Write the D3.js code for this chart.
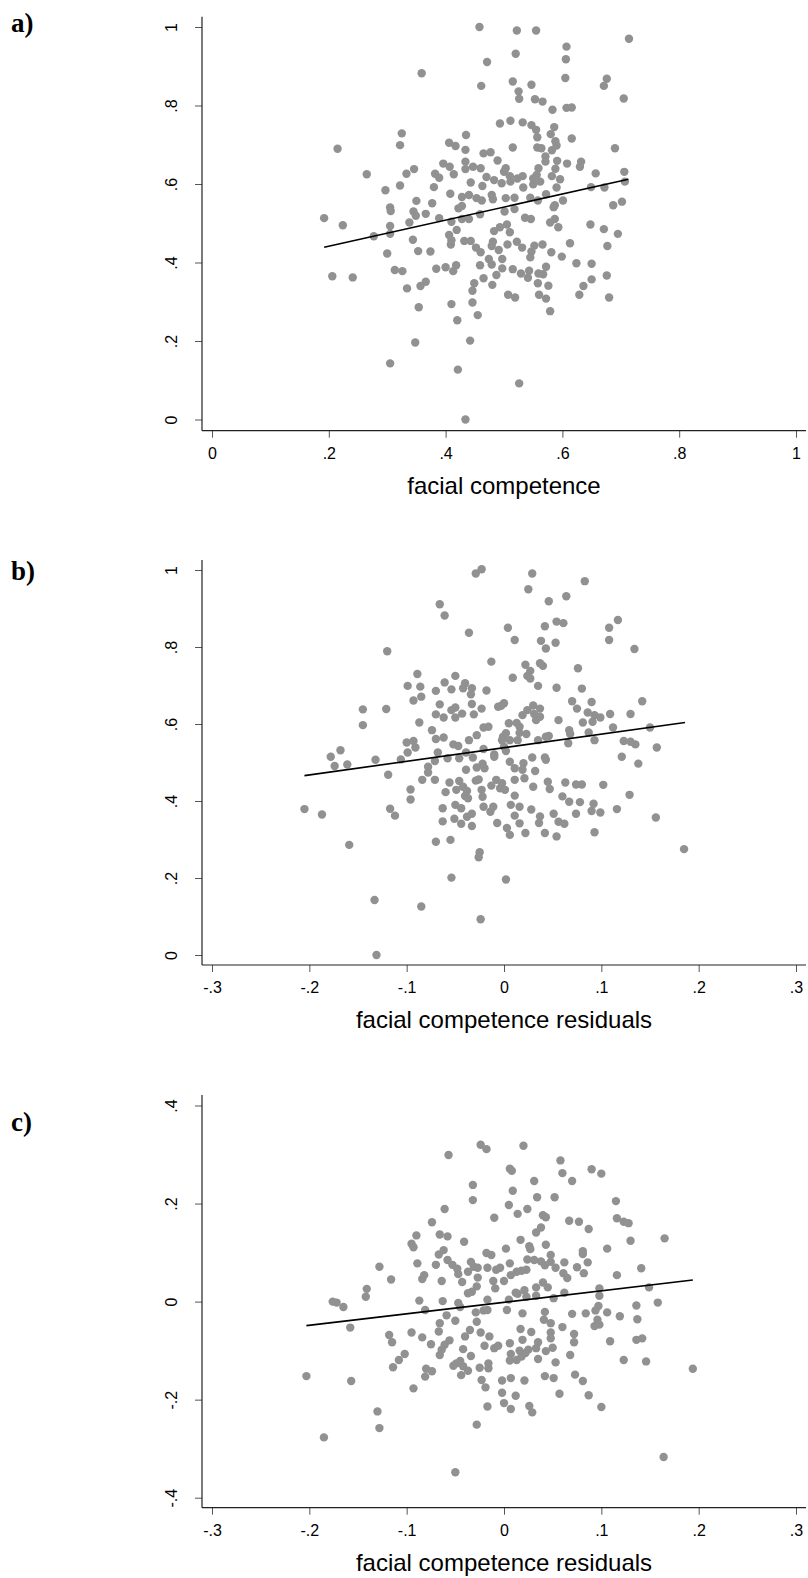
<!DOCTYPE html>
<html>
<head>
<meta charset="utf-8">
<script src="https://cdn.jsdelivr.net/npm/d3@7"></script>
<style>
body { margin: 0; background: #fff; }
</style>
</head>
<body>
<div id="chart"></div>
<script>
// panel a : vote share vs facial competence
var ptsA = [[0.458,1.0],[0.522,0.991],[0.555,0.991],[0.714,0.970],[0.607,0.950],[0.520,0.932],[0.606,0.918],[0.471,0.911],[0.359,0.882],[0.605,0.870],[0.676,0.868],[0.671,0.850],[0.461,0.850],[0.515,0.861],[0.547,0.853],[0.525,0.836],[0.526,0.817],[0.553,0.816],[0.566,0.810],[0.705,0.818],[0.583,0.789],[0.607,0.794],[0.616,0.795],[0.493,0.754],[0.511,0.761],[0.532,0.757],[0.547,0.750],[0.555,0.738],[0.586,0.745],[0.580,0.727],[0.557,0.719],[0.325,0.729],[0.322,0.699],[0.215,0.690],[0.435,0.725],[0.406,0.705],[0.417,0.697],[0.434,0.687],[0.515,0.693],[0.588,0.709],[0.590,0.698],[0.616,0.716],[0.557,0.693],[0.564,0.691],[0.690,0.691],[0.582,0.686],[0.571,0.670],[0.465,0.678],[0.477,0.681],[0.489,0.660],[0.571,0.657],[0.591,0.659],[0.608,0.652],[0.632,0.657],[0.630,0.644],[0.396,0.652],[0.407,0.644],[0.414,0.625],[0.434,0.657],[0.434,0.638],[0.447,0.644],[0.460,0.640],[0.503,0.640],[0.500,0.631],[0.559,0.640],[0.588,0.639],[0.556,0.623],[0.582,0.620],[0.346,0.638],[0.333,0.626],[0.265,0.625],[0.382,0.626],[0.389,0.616],[0.470,0.618],[0.483,0.610],[0.510,0.620],[0.523,0.614],[0.532,0.620],[0.550,0.614],[0.657,0.627],[0.706,0.631],[0.707,0.606],[0.596,0.612],[0.443,0.604],[0.463,0.595],[0.496,0.602],[0.511,0.606],[0.550,0.599],[0.533,0.591],[0.562,0.606],[0.590,0.591],[0.649,0.592],[0.672,0.591],[0.322,0.596],[0.297,0.584],[0.380,0.592],[0.408,0.575],[0.428,0.567],[0.440,0.572],[0.453,0.564],[0.462,0.558],[0.479,0.572],[0.481,0.561],[0.503,0.564],[0.518,0.565],[0.545,0.565],[0.558,0.558],[0.572,0.574],[0.350,0.557],[0.377,0.551],[0.428,0.544],[0.422,0.538],[0.459,0.523],[0.501,0.530],[0.518,0.536],[0.585,0.541],[0.601,0.558],[0.587,0.546],[0.687,0.546],[0.702,0.555],[0.305,0.540],[0.306,0.531],[0.345,0.530],[0.366,0.524],[0.349,0.519],[0.192,0.513],[0.224,0.495],[0.389,0.513],[0.410,0.504],[0.428,0.511],[0.440,0.511],[0.338,0.502],[0.305,0.493],[0.536,0.514],[0.546,0.511],[0.587,0.511],[0.579,0.502],[0.648,0.497],[0.593,0.490],[0.493,0.490],[0.505,0.497],[0.671,0.485],
  [0.305,0.473],[0.277,0.467],[0.344,0.458],[0.406,0.470],[0.419,0.483],[0.410,0.457],[0.409,0.446],[0.432,0.455],[0.443,0.455],[0.452,0.438],[0.460,0.426],[0.483,0.480],[0.510,0.477],[0.481,0.453],[0.479,0.442],[0.491,0.432],[0.506,0.446],[0.522,0.453],[0.531,0.438],[0.552,0.443],[0.566,0.446],[0.547,0.428],[0.545,0.413],[0.695,0.473],[0.677,0.442],[0.613,0.449],[0.581,0.426],[0.599,0.415],[0.300,0.423],[0.353,0.429],[0.374,0.428],[0.206,0.365],[0.241,0.362],[0.313,0.381],[0.326,0.378],[0.384,0.384],[0.400,0.388],[0.413,0.378],[0.418,0.393],[0.459,0.393],[0.474,0.409],[0.479,0.395],[0.497,0.409],[0.497,0.385],[0.487,0.368],[0.515,0.383],[0.529,0.372],[0.543,0.379],[0.541,0.361],[0.559,0.372],[0.572,0.389],[0.567,0.370],[0.558,0.347],[0.576,0.341],[0.624,0.398],[0.650,0.397],[0.650,0.357],[0.636,0.340],[0.676,0.367],[0.629,0.318],[0.680,0.311],[0.334,0.334],[0.357,0.340],[0.366,0.351],[0.465,0.360],[0.480,0.343],[0.449,0.347],[0.446,0.328],[0.507,0.318],[0.519,0.311],[0.560,0.318],[0.572,0.308],[0.579,0.276],[0.354,0.286],[0.410,0.294],[0.446,0.298],[0.455,0.266],[0.420,0.253],[0.442,0.201],[0.348,0.196],[0.305,0.143],[0.421,0.127],[0.526,0.092],[0.434,0.0]];
var fitA = [[0.192,0.439],[0.713,0.612]];

// panel b : vote share vs competence residuals
var ptsB = [[-0.023,1.002],[-0.029,0.991],[0.029,0.991],[0.083,0.971],[0.025,0.950],[0.064,0.932],[0.046,0.919],[-0.066,0.911],[-0.061,0.882],[0.054,0.866],[0.061,0.862],[0.117,0.870],[0.108,0.850],[0.004,0.850],[0.042,0.854],[-0.036,0.837],[0.011,0.818],[0.038,0.816],[0.053,0.811],[0.108,0.818],[0.043,0.796],[0.134,0.795],[-0.120,0.789],[-0.013,0.762],[0.022,0.754],[0.037,0.758],[0.040,0.751],[0.076,0.745],[0.027,0.738],[0.024,0.725],[0.027,0.718],[0.009,0.720],[-0.089,0.730],[-0.050,0.725],[-0.061,0.708],[-0.040,0.706],[-0.099,0.699],[-0.086,0.697],[-0.054,0.690],[-0.042,0.693],[-0.033,0.693],[-0.034,0.677],[-0.018,0.687],[-0.070,0.686],[0.035,0.699],[0.054,0.694],[0.080,0.692],[-0.085,0.671],[-0.093,0.661],[-0.066,0.651],[-0.033,0.652],[-0.023,0.640],[-0.003,0.647],[-0.006,0.645],[0.000,0.654],[-0.050,0.643],[-0.054,0.636],[-0.043,0.627],[-0.050,0.617],[-0.070,0.625],[-0.062,0.617],[-0.031,0.625],[-0.145,0.638],[-0.121,0.639],[0.070,0.659],[0.090,0.657],[0.142,0.659],[0.030,0.648],[0.037,0.640],[0.024,0.636],[0.019,0.623],[0.033,0.610],[0.031,0.626],[0.037,0.619],[0.075,0.640],[0.086,0.630],[0.093,0.623],[0.099,0.617],[0.109,0.626],[0.130,0.626],[0.056,0.610],[0.081,0.604],[0.091,0.606],[0.013,0.603],[0.005,0.602],[0.016,0.593],[-0.145,0.597],[-0.087,0.604],[-0.074,0.584],[-0.021,0.591],[-0.016,0.593],[-0.028,0.571],[0.002,0.576],[-0.001,0.567],[0.023,0.574],[0.016,0.577],[0.014,0.558],[0.006,0.558],[-0.002,0.558],[0.035,0.558],[0.046,0.569],[0.043,0.567],[0.067,0.584],[0.068,0.574],[0.087,0.578],[0.112,0.591],[0.150,0.591],[-0.100,0.552],[-0.093,0.556],[-0.091,0.539],[-0.099,0.526],[-0.070,0.561],[-0.062,0.565],[-0.052,0.547],[-0.047,0.543],[-0.036,0.558],[-0.021,0.535],[-0.010,0.521],[0.002,0.530],[0.000,0.541],[0.066,0.550],[0.093,0.558],[0.123,0.556],[0.130,0.554],[0.135,0.547],[0.157,0.539],[-0.168,0.532],[-0.178,0.515],[-0.068,0.526],[-0.039,0.526],[0.121,0.515],[-0.032,0.513],[0.029,0.513],[0.042,0.513],[-0.132,0.507],[-0.106,0.508],
  [-0.174,0.491],[-0.161,0.495],[-0.071,0.504],[-0.058,0.511],[-0.046,0.511],[-0.078,0.489],[-0.078,0.474],[-0.039,0.481],[-0.028,0.487],[-0.020,0.485],[-0.022,0.497],[-0.010,0.515],[0.006,0.502],[0.020,0.498],[0.011,0.485],[0.019,0.481],[0.032,0.478],[0.043,0.507],[0.138,0.497],[-0.119,0.468],[-0.084,0.455],[-0.071,0.455],[-0.056,0.448],[-0.049,0.429],[-0.046,0.452],[-0.042,0.437],[-0.038,0.426],[-0.029,0.453],[-0.026,0.456],[-0.023,0.429],[-0.013,0.440],[-0.008,0.455],[-0.002,0.446],[-0.004,0.433],[0.001,0.429],[0.011,0.455],[0.021,0.459],[0.030,0.437],[0.045,0.450],[0.047,0.431],[0.063,0.448],[0.074,0.443],[0.080,0.443],[0.102,0.442],[-0.096,0.430],[-0.096,0.404],[-0.060,0.423],[-0.040,0.413],[-0.050,0.390],[-0.044,0.381],[-0.037,0.407],[-0.022,0.411],[-0.021,0.385],[-0.014,0.372],[-0.011,0.385],[0.011,0.414],[0.007,0.390],[0.016,0.385],[0.028,0.378],[0.060,0.412],[0.067,0.398],[0.078,0.397],[0.092,0.393],[0.129,0.416],[0.116,0.379],[-0.205,0.379],[-0.187,0.365],[-0.117,0.380],[-0.112,0.362],[-0.063,0.381],[-0.063,0.347],[-0.051,0.354],[-0.044,0.341],[-0.038,0.359],[-0.033,0.367],[-0.033,0.335],[-0.007,0.343],[0.003,0.330],[0.006,0.312],[0.011,0.362],[0.016,0.342],[0.022,0.317],[0.036,0.343],[0.037,0.360],[0.051,0.367],[0.056,0.346],[0.062,0.341],[0.074,0.367],[0.090,0.374],[0.099,0.370],[0.042,0.317],[0.054,0.308],[0.093,0.319],[0.156,0.357],[-0.159,0.286],[-0.070,0.294],[-0.055,0.299],[-0.025,0.267],[-0.026,0.254],[0.185,0.275],[-0.054,0.201],[0.002,0.196],[-0.133,0.143],[-0.085,0.126],[-0.024,0.093],[-0.131,0.000]];
var fitB = [[-0.205,0.466],[0.186,0.604]];

// panel c : vote share residuals vs competence residuals
var ptsC = [[-0.024,0.320],[-0.018,0.311],[0.020,0.318],[-0.057,0.299],[0.058,0.288],[0.006,0.271],[0.008,0.267],[0.060,0.262],[0.090,0.270],[0.100,0.261],[0.070,0.246],[0.031,0.246],[-0.032,0.238],[0.009,0.226],[-0.032,0.207],[0.034,0.213],[0.052,0.213],[0.005,0.197],[-0.061,0.189],[0.014,0.179],[0.024,0.189],[-0.010,0.171],[0.040,0.176],[0.043,0.172],[0.115,0.205],[0.116,0.170],[0.123,0.163],[0.128,0.160],[0.067,0.165],[0.077,0.163],[0.087,0.148],[-0.074,0.162],[-0.090,0.135],[-0.066,0.137],[-0.058,0.133],[-0.041,0.122],[0.033,0.141],[0.038,0.151],[0.017,0.126],[0.026,0.113],[0.043,0.116],[0.130,0.124],[0.165,0.129],[-0.095,0.118],[-0.093,0.111],[-0.062,0.105],[-0.067,0.096],[-0.018,0.099],[-0.013,0.095],[0.002,0.108],[0.027,0.107],[0.048,0.095],[0.081,0.103],[0.081,0.097],[0.106,0.108],[-0.128,0.071],[-0.089,0.078],[-0.070,0.075],[-0.058,0.085],[-0.053,0.075],[-0.048,0.067],[-0.034,0.081],[-0.031,0.071],[-0.027,0.069],[-0.037,0.061],[-0.017,0.069],[-0.008,0.065],[-0.004,0.069],[0.006,0.078],[0.024,0.086],[0.031,0.085],[0.038,0.082],[0.042,0.074],[0.048,0.081],[0.023,0.065],[0.018,0.063],[0.013,0.061],[0.007,0.054],[0.000,0.042],[-0.011,0.042],[-0.009,0.027],[-0.027,0.049],[-0.028,0.031],[-0.043,0.040],[-0.047,0.056],[-0.084,0.046],[-0.082,0.054],[-0.116,0.045],[-0.064,0.042],[0.053,0.069],[0.062,0.080],[0.061,0.058],[0.065,0.048],[0.075,0.070],[0.086,0.080],[0.082,0.058],[0.116,0.054],[0.141,0.068],[0.033,0.029],[0.040,0.039],[0.045,0.029],[0.098,0.027],[0.149,0.029],[-0.141,0.026],[0.012,0.018],[0.021,0.023],
  [-0.142,0.010],[-0.037,0.017],[-0.033,0.020],[0.033,0.012],[0.062,0.018],[-0.176,0.000],[-0.172,-0.002],[-0.165,-0.011],[-0.087,0.002],[-0.081,-0.017],[-0.063,0.001],[-0.047,-0.003],[-0.045,-0.011],[-0.017,0.004],[-0.029,-0.022],[-0.021,-0.018],[-0.017,-0.017],[0.005,0.004],[0.014,0.016],[0.023,0.010],[0.003,-0.017],[0.019,-0.024],[0.051,0.007],[0.042,-0.021],[0.070,-0.025],[0.084,-0.024],[0.094,-0.018],[0.097,-0.009],[0.098,0.012],[0.106,-0.022],[0.119,-0.030],[0.136,-0.008],[0.137,-0.036],[0.158,-0.002],[-0.158,-0.053],[-0.066,-0.044],[-0.059,-0.028],[-0.050,-0.039],[-0.067,-0.061],[-0.035,-0.058],[-0.028,-0.041],[-0.040,-0.071],[-0.024,-0.063],[-0.015,-0.071],[0.017,-0.056],[0.028,-0.062],[0.041,-0.037],[0.048,-0.044],[0.048,-0.063],[0.060,-0.052],[0.096,-0.037],[0.093,-0.050],[0.098,-0.047],[0.072,-0.066],[-0.118,-0.068],[-0.115,-0.083],[-0.095,-0.063],[-0.084,-0.073],[-0.075,-0.087],[-0.061,-0.088],[-0.056,-0.079],[-0.064,-0.098],[-0.066,-0.109],[-0.042,-0.097],[-0.034,-0.111],[-0.020,-0.090],[-0.010,-0.095],[-0.006,-0.090],[0.006,-0.085],[0.019,-0.078],[0.035,-0.083],[0.033,-0.095],[0.048,-0.075],[0.050,-0.094],[0.043,-0.101],[0.072,-0.083],[0.109,-0.081],[0.136,-0.078],[0.142,-0.075],[0.007,-0.107],[0.016,-0.100],[0.025,-0.098],[0.022,-0.105],[0.018,-0.112],[0.013,-0.119],[0.006,-0.120],[0.035,-0.117],[0.068,-0.109],[0.053,-0.124],[0.123,-0.119],[0.146,-0.122],[-0.102,-0.107],[-0.108,-0.119],[-0.114,-0.134],[-0.080,-0.137],[-0.074,-0.142],[-0.081,-0.153],[-0.052,-0.131],[-0.049,-0.126],[-0.045,-0.121],[-0.042,-0.132],[-0.037,-0.141],[-0.044,-0.150],[-0.025,-0.135],[-0.016,-0.136],[-0.016,-0.126],[-0.203,-0.152],[-0.157,-0.162],[-0.093,-0.177],[-0.023,-0.160],[-0.019,-0.175],[-0.002,-0.161],[0.007,-0.156],[0.021,-0.161],[0.042,-0.152],[0.051,-0.156],[0.073,-0.149],[0.081,-0.162],[-0.002,-0.186],[0.012,-0.192],[0.057,-0.188],[0.087,-0.191],[0.000,-0.207],[0.007,-0.219],[0.026,-0.213],[0.029,-0.226],[-0.017,-0.214],[0.100,-0.215],[-0.130,-0.224],[-0.128,-0.258],[-0.028,-0.251],[-0.185,-0.277],[0.164,-0.317],[-0.050,-0.348],[0.194,-0.137]];
var fitC = [[-0.203,-0.049],[0.194,0.044]];

// ticks
var ticksUnit = [0, 0.2, 0.4, 0.6, 0.8, 1];
var labelsUnit = ["0", ".2", ".4", ".6", ".8", "1"];
var ticksRes = [-0.3, -0.2, -0.1, 0, 0.1, 0.2, 0.3];
var labelsRes = ["-.3", "-.2", "-.1", "0", ".1", ".2", ".3"];
var ticksC = [-0.4, -0.2, 0, 0.2, 0.4];
var labelsC = ["-.4", "-.2", "0", ".2", ".4"];

var sans = "'Liberation Sans', Arial, sans-serif";
var svg = d3.select("#chart").append("svg")
    .attr("width", 808)
    .attr("height", 1578)
    .style("background", "#fff");

function drawPanel(o) {
    var left = 202, right = 806;
    var x = d3.scaleLinear().domain(o.xDom).range([212, 796]);
    var y = d3.scaleLinear().domain(o.yDom).range(o.yRange);
    var g = svg.append("g");

    // x axis
    var xa = g.append("g")
        .attr("transform", "translate(0," + o.bottom + ")")
        .call(d3.axisBottom(x).tickValues(o.xt).tickFormat(function(d, i){ return o.xl[i]; }).tickSize(7).tickSizeOuter(0));
    xa.select(".domain").remove();
    xa.selectAll("line").attr("stroke", "#555");
    xa.selectAll("text")
        .attr("y", 28).attr("dy", null)
        .attr("fill", "#000")
        .style("font-family", sans).style("font-size", "16px");

    // y axis
    var ya = g.append("g")
        .attr("transform", "translate(" + left + ",0)")
        .call(d3.axisLeft(y).tickValues(o.yt).tickFormat(function(d, i){ return o.yl[i]; }).tickSize(7).tickSizeOuter(0));
    ya.select(".domain").remove();
    ya.selectAll("line").attr("stroke", "#555");
    ya.selectAll("text")
        .attr("x", null).attr("dy", null)
        .attr("text-anchor", "middle")
        .attr("transform", "translate(-25,0) rotate(-90)")
        .attr("fill", "#000")
        .style("font-family", sans).style("font-size", "16px");

    g.append("line")
        .attr("x1", left).attr("x2", left)
        .attr("y1", o.top).attr("y2", o.bottom)
        .attr("stroke", "#222").attr("stroke-width", 1.2);
    g.append("line")
        .attr("x1", left).attr("x2", right)
        .attr("y1", o.bottom).attr("y2", o.bottom)
        .attr("stroke", "#222").attr("stroke-width", 1.2);

    // points
    g.append("g").selectAll("circle")
        .data(o.pts)
        .join("circle")
        .attr("cx", function(d){ return x(d[0]); })
        .attr("cy", function(d){ return y(d[1]); })
        .attr("r", 4.2)
        .attr("fill", "#919191");

    // fitted line
    g.append("path")
        .datum(o.fit)
        .attr("d", d3.line().x(function(d){ return x(d[0]); }).y(function(d){ return y(d[1]); }))
        .attr("fill", "none")
        .attr("stroke", "#000")
        .attr("stroke-width", 1.6);

    // axis title
    g.append("text")
        .attr("x", 504).attr("y", o.bottom + 63)
        .attr("text-anchor", "middle")
        .style("font-family", sans).style("font-size", "24px")
        .text(o.title);

    // panel letter
    g.append("text")
        .attr("x", 11).attr("y", o.labelY)
        .style("font-family", "'Liberation Serif', 'Times New Roman', serif")
        .style("font-weight", "bold").style("font-size", "27px")
        .text(o.label);
}

drawPanel({pts: ptsA, fit: fitA, xDom: [0, 1], yDom: [0, 1], yRange: [419.5, 27],
    top: 16.7, bottom: 430.7, xt: ticksUnit, xl: labelsUnit, yt: ticksUnit, yl: labelsUnit,
    title: "facial competence", label: "a)", labelY: 32});
drawPanel({pts: ptsB, fit: fitB, xDom: [-0.3, 0.3], yDom: [0, 1], yRange: [955, 570],
    top: 560, bottom: 965, xt: ticksRes, xl: labelsRes, yt: ticksUnit, yl: labelsUnit,
    title: "facial competence residuals", label: "b)", labelY: 580});
drawPanel({pts: ptsC, fit: fitC, xDom: [-0.3, 0.3], yDom: [-0.4, 0.4], yRange: [1497.7, 1105.5],
    top: 1095, bottom: 1507.7, xt: ticksRes, xl: labelsRes, yt: ticksC, yl: labelsC,
    title: "facial competence residuals", label: "c)", labelY: 1131});
</script>
</body>
</html>
